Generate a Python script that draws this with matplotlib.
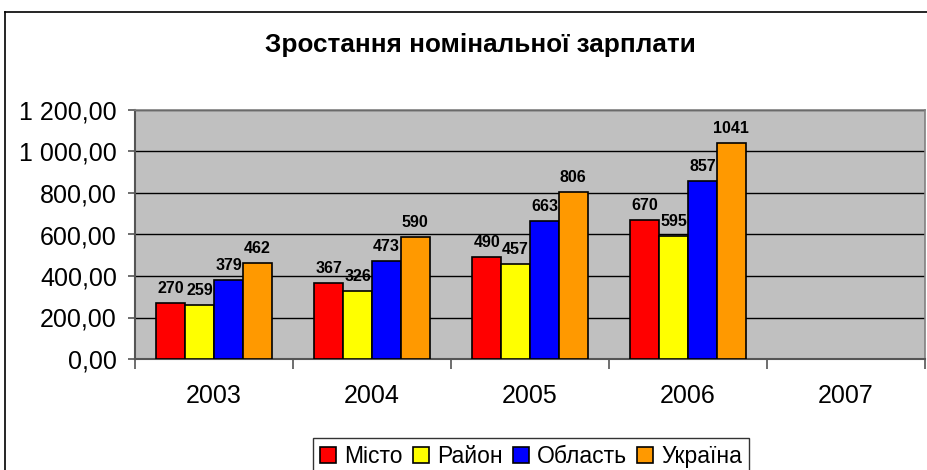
import numpy as np
import matplotlib.pyplot as plt
from matplotlib.lines import Line2D

plt.rcParams['font.family'] = ['Liberation Sans', 'DejaVu Sans']

# дані
years = ['2003', '2004', '2005', '2006', '2007']
misto = [270, 367, 490, 670]
raion = [259, 326, 457, 595]
oblast = [379, 473, 663, 857]
ukraina = [462, 590, 806, 1041]
series_names = ['Місто', 'Район', 'Область', 'Україна']
colors = ['#FF0000', '#FFFF00', '#0000FF', '#FF9900']
yticks = [0, 200, 400, 600, 800, 1000, 1200]

fig = plt.figure(figsize=(9.27, 4.7), dpi=100)
ax = fig.add_axes([135/927, 1-359/470, 790/927, 249/470])
ax.set_facecolor('#C0C0C0')

w = 0.183
x = np.arange(len(misto))
for i, (vals, name, c) in enumerate(zip([misto, raion, oblast, ukraina], series_names, colors)):
    pos = x + (i - 1.5) * w
    ax.bar(pos, vals, width=w, color=c, edgecolor='black', linewidth=1.2, label=name, zorder=3)
    for px, v in zip(pos, vals):
        ax.annotate(str(v), (px, v), xytext=(0, 5), textcoords='offset points',
                    ha='center', va='bottom', fontsize=11.5, fontweight='bold', zorder=4)

ax.set_xlim(-0.5, len(years) - 0.5)
ax.set_ylim(0, 1200)
ax.set_yticks(yticks)
ax.set_yticklabels([('{:,.2f}'.format(v)).replace(',', ' ').replace('.', ',') for v in yticks], fontsize=18)
ax.yaxis.grid(True, color='black', linewidth=1, zorder=0)

# межі категорій — великі поділки, підписи — малі
ax.set_xticks(np.arange(len(years) + 1) - 0.5)
ax.set_xticklabels([])
ax.set_xticks(np.arange(len(years)), minor=True)
ax.set_xticklabels(years, minor=True, fontsize=18)
ax.tick_params(axis='x', which='major', direction='out', length=7, width=1.2, color='#555555')
ax.tick_params(axis='x', which='minor', length=0, pad=18)
ax.tick_params(axis='y', direction='out', length=5, width=1.2, color='#555555', pad=8)

for s in ['left', 'bottom']:
    ax.spines[s].set_color('#555555')
    ax.spines[s].set_linewidth(1.5)
for s in ['top', 'right']:
    ax.spines[s].set_color('#808080')
    ax.spines[s].set_linewidth(1.2)

fig.text(480/927, 1-45/470, 'Зростання номінальної зарплати', ha='center', va='center',
         fontsize=18.8, fontweight='bold')

leg = fig.legend(loc='upper center', bbox_to_anchor=(531/927, 1-427/470), ncol=4,
                 fontsize=16.5, frameon=True, fancybox=False, edgecolor='black',
                 handlelength=0.7, handleheight=0.7, handletextpad=0.35, columnspacing=0.45,
                 borderpad=0.3)
leg.get_frame().set_linewidth(1.0)

# рамка діаграми
fig.add_artist(Line2D([5/927, 1], [1-12/470, 1-12/470], color='black', linewidth=1.2))
fig.add_artist(Line2D([5/927, 5/927], [0, 1-12/470], color='black', linewidth=1.2))

fig.savefig('out.png', dpi=100)
